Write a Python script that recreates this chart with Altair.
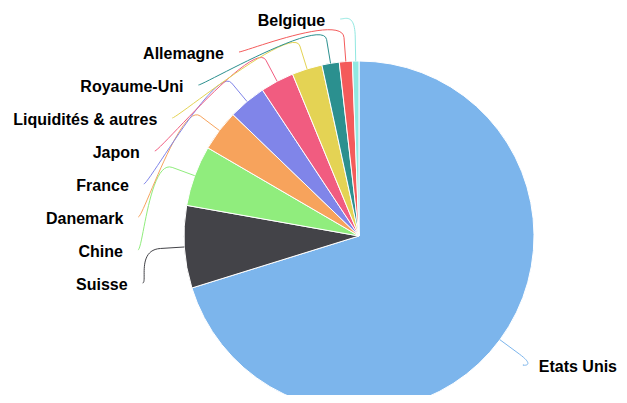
import math
import altair as alt
import pandas as pd

# ---- data ----
categories = ["Etats Unis", "Suisse", "Chine", "Danemark", "France", "Japon",
              "Liquidités & autres", "Royaume-Uni", "Allemagne", "Belgique"]
values = [70.2, 7.6, 5.6, 3.8, 3.5, 3.1, 2.8, 1.6, 1.2, 0.6]
colors = ["#7cb5ec", "#434348", "#90ed7d", "#f7a35c", "#8085e9", "#f15c80",
          "#e4d354", "#2b908f", "#f45b5b", "#91e8e1"]

# ---- layout constants (page pixels) ----
W, H = 611, 387
M = 8
CX, CY = 359, 236
R = 175
R_LABEL = 217.5
PAD = 4
BREAK = 24
GAP = 15
TOP = 19
SPACING = 33
FS = 16
FONT = "Liberation Sans"

# approx Arial-Bold advance widths (per 1000 em) for overflow check
ADV = {'E': 667, 't': 333, 'a': 556, 's': 556, ' ': 278, 'U': 722, 'n': 611, 'i': 278}


def text_width(s):
    return sum(ADV.get(c, 600) for c in s) * FS / 1000.0


# ---- pie geometry derived from data ----
total = sum(values)
cum = 0.0
mids = []
for v in values:
    a0 = cum / total * 2 * math.pi
    cum += v
    a1 = cum / total * 2 * math.pi
    mids.append((a0 + a1) / 2)

pie_df = pd.DataFrame({"cat": categories, "value": values, "idx": list(range(len(values)))})

info = []
for i, (c, m) in enumerate(zip(categories, mids)):
    side = "right" if math.sin(m) > 0 else "left"
    nat_y = CY - math.cos(m) * R_LABEL
    info.append({"i": i, "cat": c, "m": m, "side": side, "nat": nat_y})

# distribute labels per side (push down to avoid overlap, bounded at top)
for side in ("left", "right"):
    items = sorted([d for d in info if d["side"] == side], key=lambda d: d["nat"])
    prev = None
    for d in items:
        y = max(d["nat"], TOP)
        if prev is not None:
            y = max(y, prev + SPACING)
        d["y"] = y
        prev = y

conn_rows = []
label_rows = []
for d in info:
    m = d["m"]
    s = 1 if d["side"] == "right" else -1
    dy = d["y"] - CY
    dx = math.sqrt(max(R_LABEL ** 2 - dy ** 2, 0))
    lx = CX + s * (dx + PAD)
    ly = d["y"]
    tx = lx + s * GAP
    if s == 1:
        over = tx + text_width(d["cat"]) - (M + W - 2)
        if over > 0:
            lx -= over
            tx -= over
    T = (CX + R * math.sin(m), CY - R * math.cos(m))
    B = (CX + (R + BREAK) * math.sin(m), CY - (R + BREAK) * math.cos(m))
    P0 = (lx, ly)
    P1 = (lx - s * 5, ly)
    P2 = (2 * B[0] - T[0], 2 * B[1] - T[1])
    P3 = B
    n = 24
    seq = 0
    for k in range(n + 1):
        t = k / n
        a = (1 - t) ** 3
        b = 3 * (1 - t) ** 2 * t
        c = 3 * (1 - t) * t ** 2
        e = t ** 3
        x = a * P0[0] + b * P1[0] + c * P2[0] + e * P3[0]
        y = a * P0[1] + b * P1[1] + c * P2[1] + e * P3[1]
        conn_rows.append({"cat": d["cat"], "seq": seq, "x": x, "y": y})
        seq += 1
    conn_rows.append({"cat": d["cat"], "seq": seq, "x": T[0], "y": T[1]})
    label_rows.append({"cat": d["cat"], "x": tx, "y": ly, "side": d["side"]})

conn_df = pd.DataFrame(conn_rows)
label_df = pd.DataFrame(label_rows)

xs = alt.Scale(domain=[M, M + W], range=[0, W], nice=False, zero=False)
ys = alt.Scale(domain=[M, M + H], range=[0, H], nice=False, zero=False)
cs = alt.Scale(domain=categories, range=colors)

pie = alt.Chart(pie_df).mark_arc(outerRadius=R, stroke="#ffffff", strokeWidth=1).encode(
    theta=alt.Theta("value:Q", stack=True),
    color=alt.Color("cat:N", scale=cs, legend=None),
    order=alt.Order("idx:Q"),
    x=alt.value(CX - M),
    y=alt.value(CY - M),
)

connectors = alt.Chart(conn_df).mark_line(strokeWidth=1).encode(
    x=alt.X("x:Q", scale=xs, axis=None),
    y=alt.Y("y:Q", scale=ys, axis=None),
    color=alt.Color("cat:N", scale=cs, legend=None),
    order=alt.Order("seq:Q"),
)

left_labels = alt.Chart(label_df).transform_filter(alt.datum.side == "left").mark_text(
    align="right", baseline="middle", dy=2, font=FONT, fontSize=FS, fontWeight="bold", color="#000000"
).encode(
    x=alt.X("x:Q", scale=xs, axis=None),
    y=alt.Y("y:Q", scale=ys, axis=None),
    text="cat:N",
)

right_labels = alt.Chart(label_df).transform_filter(alt.datum.side == "right").mark_text(
    align="left", baseline="middle", dy=2, font=FONT, fontSize=FS, fontWeight="bold", color="#000000"
).encode(
    x=alt.X("x:Q", scale=xs, axis=None),
    y=alt.Y("y:Q", scale=ys, axis=None),
    text="cat:N",
)

chart = alt.layer(pie, connectors, left_labels, right_labels).properties(
    width=W, height=H, padding=0, autosize=alt.AutoSizeParams(type="none"),
    background="#ffffff",
).configure_view(strokeWidth=0)

chart.save("out.html", embed_options={"renderer": "svg", "actions": False})
